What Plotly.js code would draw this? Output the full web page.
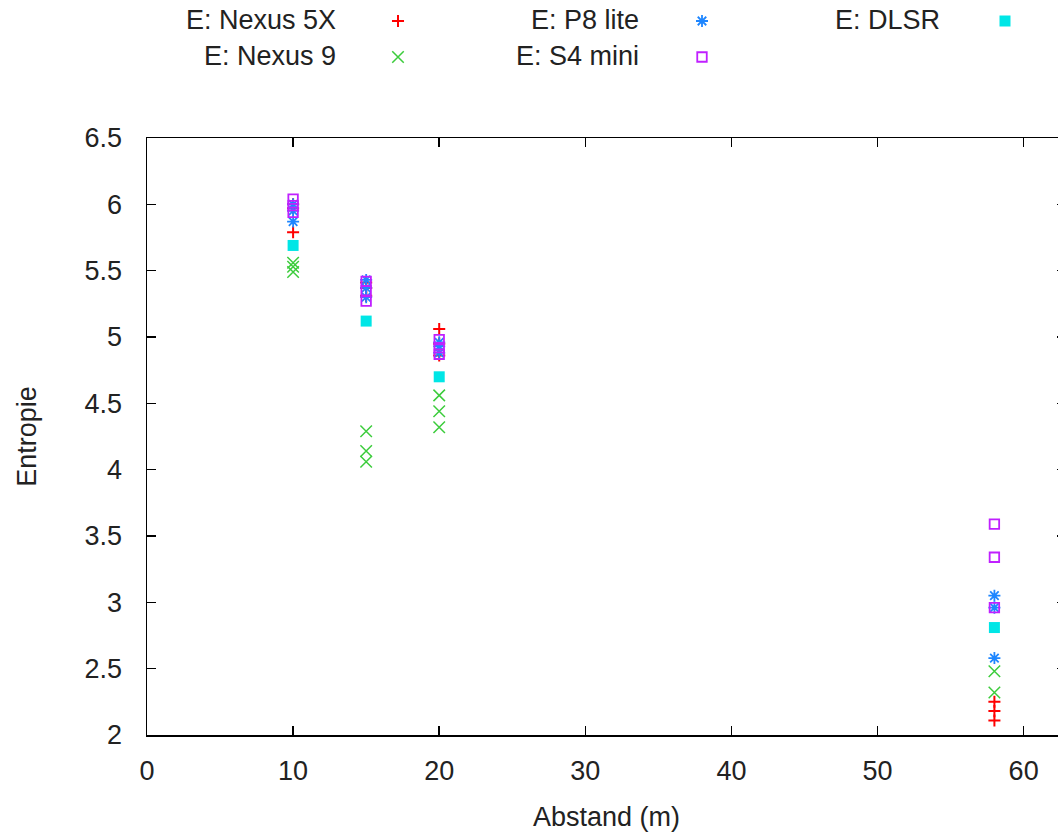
<!DOCTYPE html>
<html>
<head>
<meta charset="utf-8">
<script src="https://cdn.plot.ly/plotly-3.0.1.min.js"></script>
<style>
html,body{margin:0;padding:0;overflow:hidden;background:#fff;}
#chart{width:1080px;height:832px;}
</style>
</head>
<body>
<div id="chart"></div>
<script>
// Data (x = distance in m, y = entropy)
var nexus5xX = [10, 10, 10, 15, 15, 15, 20, 20, 20, 58, 58, 58];
var nexus5xY = [5.79, 5.97, 6.00, 5.41, 5.37, 5.31, 5.06, 4.95, 4.86, 2.25, 2.18, 2.11];
var nexus9X = [10, 10, 10, 15, 15, 15, 20, 20, 20, 58, 58];
var nexus9Y = [5.56, 5.53, 5.49, 4.29, 4.14, 4.06, 4.56, 4.44, 4.32, 2.48, 2.32];
var p8liteX = [10, 10, 10, 15, 15, 15, 20, 20, 20, 58, 58, 58];
var p8liteY = [6.00, 5.95, 5.87, 5.43, 5.37, 5.30, 4.96, 4.93, 4.88, 3.05, 2.96, 2.58];
var s4miniX = [10, 10, 10, 15, 15, 15, 20, 20, 20, 58, 58, 58];
var s4miniY = [6.04, 5.99, 5.94, 5.42, 5.35, 5.27, 4.98, 4.92, 4.87, 3.59, 3.34, 2.96];
var dlsrX = [10, 15, 20, 58];
var dlsrY = [5.69, 5.12, 4.70, 2.81];

var seriesNames = ["E: Nexus 5X", "E: Nexus 9", "E: P8 lite", "E: S4 mini", "E: DLSR"];
var xTicks = [0, 10, 20, 30, 40, 50, 60];
var yTicks = [2, 2.5, 3, 3.5, 4, 4.5, 5, 5.5, 6, 6.5];
var yTickText = ["2", "2.5", "3", "3.5", "4", "4.5", "5", "5.5", "6", "6.5"];

var styles = [
  {symbol: "cross-thin-open", size: 8.6, color: "#ff0000", lw: 2},
  {symbol: "x-thin-open", size: 11.5, color: "#3ccc3c", lw: 1.5},
  {symbol: "asterisk-open", size: 10, color: "#1e86ff", lw: 1.8},
  {symbol: "square-open", size: 9.5, color: "#c020ff", lw: 1.8},
  {symbol: "square", size: 11, color: "#00e6e6", lw: 0}
];
var xs = [nexus5xX, nexus9X, p8liteX, s4miniX, dlsrX];
var ys = [nexus5xY, nexus9Y, p8liteY, s4miniY, dlsrY];

var traces = [];
for (var i = 0; i < 5; i++) {
  var st = styles[i];
  traces.push({
    type: "scatter", mode: "markers", name: seriesNames[i],
    x: xs[i], y: ys[i], showlegend: false,
    marker: {symbol: st.symbol, size: st.size, color: st.color,
             line: {color: st.color, width: st.lw}}
  });
}

var fontFamily = "Liberation Sans, Arial, sans-serif";
var font = {family: fontFamily, size: 27, color: "#222"};

// gnuplot-style key: text right-aligned, sample to the right (pixel layout on a helper axis pair)
var keyCol = [0, 0, 1, 1, 2];
var keyRow = [0, 1, 0, 1, 0];
var keyTextRight = [338, 641, 942];
var keySample = [398, 702, 1005];
var keyRowY = [20, 56];
var annotations = [];
for (var k = 0; k < 5; k++) {
  var c = keyCol[k], r = keyRow[k], st2 = styles[k];
  annotations.push({
    xref: "x2", yref: "y2", x: keyTextRight[c], y: keyRowY[r],
    xanchor: "right", yanchor: "middle", showarrow: false,
    text: seriesNames[k], font: font
  });
  traces.push({
    type: "scatter", mode: "markers", xaxis: "x2", yaxis: "y2",
    x: [keySample[c]], y: [keyRowY[r] + 1], showlegend: false, hoverinfo: "skip",
    marker: {symbol: st2.symbol, size: st2.size, color: st2.color,
             line: {color: st2.color, width: st2.lw}}
  });
}

var H = 832, B = 97, plotH = H - B; // plot region (t=0) spans 0..735
var mainTop = 138;
var layout = {
  width: 1080, height: H,
  margin: {l: 147, r: 14, t: 0, b: B, pad: 0},
  paper_bgcolor: "#fff", plot_bgcolor: "#fff",
  font: font,
  showlegend: false,
  xaxis: {
    range: [0, 62.9], tickvals: xTicks, ticks: "inside", ticklen: 9, tickwidth: 1.5,
    tickcolor: "#000", showline: true, linecolor: "#000", linewidth: 1.5, mirror: "ticks",
    showgrid: false, zeroline: false, ticklabelstandoff: 11,
    title: {text: "Abstand (m)", font: font, standoff: 22}, automargin: false
  },
  yaxis: {
    domain: [0, (plotH - mainTop) / plotH],
    range: [2, 6.5], tickvals: yTicks, ticktext: yTickText, ticks: "inside", ticklen: 9, tickwidth: 1.5,
    tickcolor: "#000", showline: true, linecolor: "#000", linewidth: 1.5, mirror: "ticks",
    showgrid: false, zeroline: false, ticklabelstandoff: 18,
    title: {text: "Entropie", font: font, standoff: 40}, automargin: false
  },
  xaxis2: {anchor: "y2", range: [147, 1066], visible: false, fixedrange: true},
  yaxis2: {anchor: "x2", domain: [(plotH - mainTop) / plotH, 1], range: [mainTop, 0], visible: false, fixedrange: true},
  annotations: annotations
};

Plotly.newPlot("chart", traces, layout, {displayModeBar: false, staticPlot: true});
</script>
</body>
</html>
